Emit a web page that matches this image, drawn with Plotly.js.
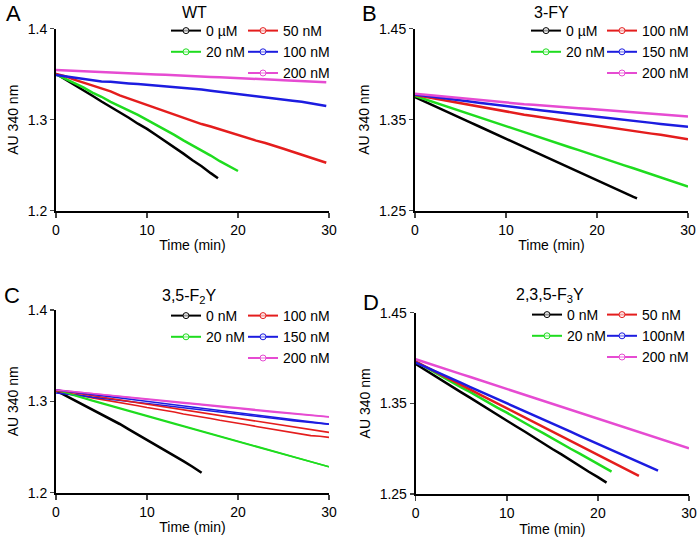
<!DOCTYPE html>
<html>
<head>
<meta charset="utf-8">
<script src="https://cdn.plot.ly/plotly-3.0.1.min.js"></script>
<style>html,body{margin:0;padding:0;background:#fff}#chart{width:699px;height:540px}</style>
</head>
<body>
<div id="chart"></div>
<script>
// ---------- data (AU 340 nm vs time, sampled each minute; last point = trace end) ----------
const seriesColors = ['#000000', '#1fdc1f', '#e41d1d', '#1c1ce0', '#e64bd2'];

// Panel A: WT
const namesA = ['0 µM', '20 nM', '50 nM', '100 nM', '200 nM'];
const endA = [17.8, 20, 29.7, 29.7, 29.7];
const A_0 = [1.3505,1.3446,1.3388,1.3321,1.3263,1.3200,1.3142,1.3077,1.3021,1.2956,1.2899,1.2831,1.2765,1.2690,1.2627,1.2555,1.2489,1.2413,1.2356];
const A_20 = [1.3498,1.3452,1.3399,1.3356,1.3298,1.3252,1.3196,1.3151,1.3097,1.3052,1.2998,1.2946,1.2888,1.2834,1.2773,1.2719,1.2658,1.2606,1.2544,1.2493,1.2436];
const A_50 = [1.3503,1.3478,1.3441,1.3407,1.3372,1.3341,1.3312,1.3268,1.3233,1.3194,1.3159,1.3121,1.3088,1.3049,1.3015,1.2986,1.2952,1.2925,1.2893,1.2862,1.2834,1.2803,1.2770,1.2744,1.2709,1.2681,1.2648,1.2617,1.2586,1.2553,1.2527];
const A_100 = [1.3492,1.3478,1.3459,1.3445,1.3433,1.3420,1.3416,1.3404,1.3398,1.3391,1.3383,1.3375,1.3368,1.3355,1.3346,1.3336,1.3331,1.3318,1.3306,1.3297,1.3285,1.3273,1.3265,1.3249,1.3238,1.3224,1.3209,1.3196,1.3178,1.3164,1.3151];
const A_200 = [1.3546,1.3541,1.3538,1.3532,1.3529,1.3525,1.3520,1.3514,1.3512,1.3507,1.3503,1.3497,1.3494,1.3488,1.3484,1.3481,1.3476,1.3470,1.3467,1.3461,1.3456,1.3452,1.3448,1.3443,1.3438,1.3434,1.3429,1.3424,1.3420,1.3415,1.3411];

// Panel B: 3-FY
const namesB = ['0 µM', '20 nM', '100 nM', '150 nM', '200 nM'];
const endB = [24.4, 30, 30, 30, 30];
const B_0 = [1.3748,1.3701,1.3657,1.3610,1.3566,1.3518,1.3474,1.3428,1.3382,1.3336,1.3291,1.3243,1.3200,1.3152,1.3108,1.3062,1.3017,1.2970,1.2926,1.2879,1.2835,1.2789,1.2742,1.2698,1.2652,1.2636];
const B_20 = [1.3762,1.3728,1.3697,1.3662,1.3631,1.3595,1.3564,1.3529,1.3497,1.3463,1.3431,1.3396,1.3364,1.3329,1.3298,1.3263,1.3231,1.3197,1.3166,1.3131,1.3099,1.3064,1.3033,1.2998,1.2966,1.2931,1.2900,1.2865,1.2832,1.2799,1.2764];
const B_100 = [1.3771,1.3753,1.3733,1.3716,1.3695,1.3679,1.3658,1.3642,1.3622,1.3606,1.3586,1.3572,1.3555,1.3541,1.3524,1.3510,1.3494,1.3481,1.3464,1.3451,1.3435,1.3421,1.3406,1.3392,1.3376,1.3363,1.3347,1.3334,1.3316,1.3302,1.3284];
const B_150 = [1.3776,1.3762,1.3751,1.3737,1.3725,1.3711,1.3699,1.3686,1.3673,1.3662,1.3648,1.3637,1.3625,1.3614,1.3601,1.3591,1.3578,1.3568,1.3555,1.3545,1.3532,1.3522,1.3509,1.3499,1.3487,1.3476,1.3465,1.3453,1.3443,1.3432,1.3423];
const B_200 = [1.3786,1.3776,1.3767,1.3755,1.3746,1.3735,1.3727,1.3715,1.3706,1.3697,1.3685,1.3679,1.3670,1.3664,1.3655,1.3649,1.3640,1.3634,1.3626,1.3619,1.3611,1.3604,1.3596,1.3590,1.3581,1.3575,1.3566,1.3560,1.3551,1.3545,1.3536];

// Panel C: 3,5-F2Y
const namesC = ['0 nM', '20 nM', '100 nM', '150 nM', '200 nM'];
const endC = [16, 30, 30, 30, 30];
const C_0 = [1.3118,1.3066,1.3017,1.2968,1.2915,1.2861,1.2807,1.2752,1.2694,1.2637,1.2580,1.2522,1.2462,1.2404,1.2345,1.2284,1.2218];
const C_20 = [1.3122,1.3090,1.3062,1.3033,1.3004,1.2977,1.2948,1.2920,1.2893,1.2864,1.2837,1.2809,1.2780,1.2753,1.2724,1.2696,1.2669,1.2640,1.2613,1.2584,1.2557,1.2528,1.2501,1.2473,1.2446,1.2418,1.2392,1.2363,1.2338,1.2309,1.2284];
const C_100 = [1.3110,1.3096,1.3075,1.3060,1.3038,1.3022,1.3003,1.2987,1.2966,1.2951,1.2932,1.2918,1.2897,1.2883,1.2862,1.2848,1.2829,1.2813,1.2793,1.2779,1.2758,1.2744,1.2725,1.2709,1.2690,1.2676,1.2656,1.2642,1.2625,1.2618,1.2606];
const C_150 = [1.3092,1.3084,1.3071,1.3060,1.3046,1.3036,1.3023,1.3010,1.2999,1.2988,1.2976,1.2965,1.2953,1.2942,1.2929,1.2918,1.2906,1.2895,1.2883,1.2872,1.2859,1.2849,1.2836,1.2825,1.2813,1.2802,1.2789,1.2779,1.2766,1.2757,1.2749];
const C_200 = [1.3127,1.3116,1.3106,1.3095,1.3083,1.3075,1.3062,1.3052,1.3043,1.3030,1.3021,1.3009,1.3001,1.2991,1.2979,1.2972,1.2960,1.2951,1.2941,1.2930,1.2922,1.2910,1.2902,1.2891,1.2881,1.2872,1.2862,1.2854,1.2843,1.2836,1.2829];
// linear fits drawn in panel C for 20, 100, 150, 200 nM (value at 0 min, value at 30 min)
const fitC_series = [1, 2, 3, 4];
const fitC_start = [1.3124, 1.3124, 1.3124, 1.3124];
const fitC_end = [1.2284, 1.2660, 1.2751, 1.2831];

// Panel D: 2,3,5-F3Y
const namesD = ['0 nM', '20 nM', '50 nM', '100nM', '200 nM'];
const endD = [20.95, 21.5, 24.5, 26.6, 30];
const D_0 = [1.3934,1.3870,1.3811,1.3745,1.3685,1.3621,1.3560,1.3496,1.3436,1.3371,1.3311,1.3247,1.3187,1.3121,1.3062,1.2996,1.2937,1.2871,1.2812,1.2746,1.2686,1.2625];
const D_20 = [1.3961,1.3903,1.3849,1.3790,1.3736,1.3677,1.3623,1.3564,1.3510,1.3451,1.3397,1.3338,1.3284,1.3225,1.3171,1.3112,1.3058,1.2999,1.2945,1.2886,1.2832,1.2773,1.2746];
const D_50 = [1.3961,1.3908,1.3858,1.3805,1.3755,1.3703,1.3652,1.3600,1.3549,1.3497,1.3446,1.3394,1.3343,1.3291,1.3240,1.3188,1.3137,1.3085,1.3034,1.2982,1.2931,1.2879,1.2828,1.2776,1.2725,1.2699];
const D_100 = [1.3950,1.3907,1.3860,1.3816,1.3770,1.3726,1.3680,1.3636,1.3590,1.3546,1.3500,1.3456,1.3410,1.3366,1.3321,1.3277,1.3231,1.3187,1.3141,1.3097,1.3051,1.3007,1.2961,1.2917,1.2871,1.2828,1.2782,1.2757];
const D_200 = [1.3986,1.3955,1.3920,1.3889,1.3855,1.3823,1.3790,1.3757,1.3725,1.3691,1.3660,1.3625,1.3594,1.3560,1.3528,1.3495,1.3463,1.3429,1.3397,1.3364,1.3331,1.3298,1.3266,1.3232,1.3201,1.3167,1.3136,1.3102,1.3070,1.3037,1.3004];

// axis tick labels
const xTicks = [0, 10, 20, 30];
const yTicksAC = [1.2, 1.3, 1.4];
const yTicksBD = [1.25, 1.35, 1.45];

// ---------- build ----------
const W = 699, H = 540;
const FONT = 'Liberation Sans, Arial, sans-serif';
const px = x => x / W;
const py = y => 1 - y / H;

function timesFor(n, end) {
  const t = [];
  for (let i = 0; i < n - 1; i++) t.push(i);
  t.push(end);
  return t;
}

const traces = [];
function addPanel(sets, names, ends, ax, widths, legCols) {
  const xa = 'x' + ax, ya = 'y' + ax;
  sets.forEach((vals, i) => {
    traces.push({
      type: 'scatter', mode: 'lines', x: timesFor(vals.length, ends[i]), y: vals,
      xaxis: xa, yaxis: ya, showlegend: false, hoverinfo: 'skip',
      line: {color: seriesColors[i], width: widths[i]}
    });
  });
  names.forEach((nm, i) => {
    traces.push({
      type: 'scatter', mode: 'lines+markers', x: [null], y: [null],
      xaxis: xa, yaxis: ya, name: nm, showlegend: true,
      legend: legCols[i],
      line: {color: seriesColors[i], width: 2},
      marker: {symbol: 'circle', size: 6, color: 'rgba(255,255,255,0.6)', line: {color: seriesColors[i], width: 1}}
    });
  });
}

const thick = [2.5, 2.5, 2.5, 2.5, 2.5];
addPanel([A_0, A_20, A_50, A_100, A_200], namesA, endA, '', thick, ['legend', 'legend', 'legend2', 'legend2', 'legend2']);
addPanel([B_0, B_20, B_100, B_150, B_200], namesB, endB, '2', thick, ['legend3', 'legend3', 'legend4', 'legend4', 'legend4']);
addPanel([C_0, C_20, C_100, C_150, C_200], namesC, endC, '3', [2.6, 1.6, 1.6, 1.6, 1.6], ['legend5', 'legend5', 'legend6', 'legend6', 'legend6']);
addPanel([D_0, D_20, D_50, D_100, D_200], namesD, endD, '4', thick, ['legend7', 'legend7', 'legend8', 'legend8', 'legend8']);
fitC_series.forEach((si, k) => {
  traces.push({type: 'scatter', mode: 'lines', x: [0, endC[si]], y: [fitC_start[k], fitC_end[k]],
    xaxis: 'x3', yaxis: 'y3', showlegend: false, hoverinfo: 'skip',
    line: {color: seriesColors[si], width: 1.6}});
});

function xAxis(d, anchor) {
  return {domain: d, anchor: anchor, range: [0, 30], tickvals: xTicks, ticks: 'outside', ticklen: 5, tickwidth: 1.5,
    showline: true, linewidth: 2, linecolor: '#000', showgrid: false, zeroline: false,
    tickfont: {family: FONT, size: 14, color: '#000'},
    title: {text: 'Time (min)', font: {family: FONT, size: 14, color: '#000'}, standoff: 4}};
}
function yAxis(d, anchor, r, tv) {
  return {domain: d, anchor: anchor, range: r, tickvals: tv, ticks: 'outside', ticklen: 4, tickwidth: 1.5,
    showline: true, linewidth: 2, linecolor: '#000', showgrid: false, zeroline: false,
    tickfont: {family: FONT, size: 14, color: '#000'},
    title: {text: 'AU 340 nm', font: {family: FONT, size: 14, color: '#000'}, standoff: 6}};
}
function leg(xl, ytop) {
  return {x: px(xl), y: py(ytop), xanchor: 'left', yanchor: 'top', orientation: 'v',
    bgcolor: 'rgba(0,0,0,0)', borderwidth: 0, font: {family: FONT, size: 14, color: '#000'},
    itemclick: false, itemdoubleclick: false, tracegroupgap: 0};
}
function label(text, x, y, size) {
  return {text: text, x: px(x), y: py(y), xref: 'paper', yref: 'paper', xanchor: 'center', yanchor: 'middle',
    showarrow: false, font: {family: FONT, size: size, color: '#000'}};
}

const layout = {
  width: W, height: H, margin: {l: 0, r: 0, t: 0, b: 0}, paper_bgcolor: '#fff', plot_bgcolor: 'rgba(0,0,0,0)',
  showlegend: true, font: {family: FONT, color: '#000'},
  xaxis: xAxis([px(56), px(329)], 'y'),
  yaxis: yAxis([py(210.7), py(28.7)], 'x', [1.2, 1.4], yTicksAC),
  xaxis2: xAxis([px(415), px(688)], 'y2'),
  yaxis2: yAxis([py(210.7), py(28.7)], 'x2', [1.25, 1.45], yTicksBD),
  xaxis3: xAxis([px(56), px(329)], 'y3'),
  yaxis3: yAxis([py(492.7), py(310)], 'x3', [1.2, 1.4], yTicksAC),
  xaxis4: xAxis([px(415.7), px(689)], 'y4'),
  yaxis4: yAxis([py(494), py(312.7)], 'x4', [1.25, 1.45], yTicksBD),
  legend: leg(166, 15), legend2: leg(243, 15),
  legend3: leg(526, 15), legend4: leg(602, 15),
  legend5: leg(166, 300), legend6: leg(243, 300),
  legend7: leg(527, 299), legend8: leg(602, 299),
  annotations: [
    label('A', 13, 14, 22), label('B', 369, 14, 22), label('C', 12, 295, 22), label('D', 371, 302, 22),
    label('WT', 194, 12, 16), label('3-FY', 551, 12, 16),
    label('3,5-F<sub>2</sub>Y', 190, 296, 16), label('2,3,5-F<sub>3</sub>Y', 550, 295, 16)
  ]
};

Plotly.newPlot('chart', traces, layout, {staticPlot: true, displayModeBar: false});
</script>
</body>
</html>
